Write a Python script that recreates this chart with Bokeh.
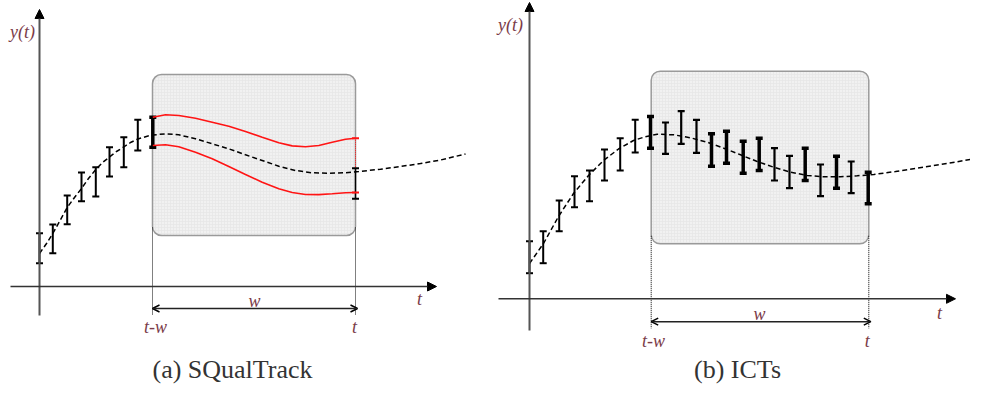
from bokeh.plotting import figure
from bokeh.models import Range1d, Arrow, NormalHead, OpenHead, ColumnDataSource
from bokeh.core.properties import value
from bokeh.embed import file_html
from bokeh.resources import INLINE

# ---------------- data (in picture pixel units) ----------------
# Panel (a) SQualTrack
A_AXIS_X = 39
A_AXIS_Y = 286
A_AXIS_TOP = 9
A_AXIS_LEFT = 10
A_AXIS_RIGHT = 436
A_AXIS_BOTTOM = 315
A_WIN = [152, 355]          # t-w, t
A_BOX_TB = [74, 235]
A_BAR_X = [39, 52.3, 66.7, 81, 95.3, 109, 123.3, 137.3, 152.3]
A_BAR_HI = [232.7, 224, 195, 172, 166.7, 146.7, 136.7, 119.3, 116.7]
A_BAR_LO = [262.7, 252.7, 223.7, 200.7, 196, 176, 166.7, 150, 146.7]
A_BAR_W = [2, 2, 2, 2, 2, 2, 2, 2, 3.5]
A_LAST_BAR = [355, 167.7, 198.3]
A_CURVE_X = [39, 46, 52.3, 59, 66.7, 74, 81, 88, 95.3, 102, 109, 116, 123.3, 130, 137.3,
             146.7, 152.3, 165, 178.3, 195, 211.7, 228.3, 245, 261.7, 278.3, 295, 311.7,
             328.3, 345, 358.3, 380, 400, 420, 440, 465]
A_CURVE_Y = [253, 243, 233, 221, 207, 197, 188, 178, 169, 162, 156.5, 151, 146.5, 142, 138.5,
             135.7, 134.5, 133.3, 134.3, 138.3, 143.3, 148.3, 154.3, 160, 165.7, 170, 172.3,
             172.7, 172.3, 171, 168.7, 166, 163, 159.5, 153.5]
A_RED_X = [152.3, 165, 178.3, 195, 211.7, 228.3, 245, 261.7, 278.3, 291.7, 305, 318.3,
           331.7, 345, 355]
A_RED_UP = [116.7, 114.3, 115, 117.7, 121.7, 125.7, 131, 136.7, 142.3, 145.4, 146.3, 145,
            141.7, 138.7, 137.7]
A_RED_LO = [145, 144.3, 146.3, 151.7, 158.3, 166, 174, 181.7, 188.3, 192, 194, 194.1,
            193.3, 192.3, 192]

# Panel (b) ICTs
B_AXIS_X = 529
B_AXIS_Y = 298.3
B_AXIS_TOP = 2
B_AXIS_LEFT = 498
B_AXIS_RIGHT = 955
B_AXIS_BOTTOM = 330
B_WIN = [650.7, 868.3]
B_BOX_TB = [70.7, 243.3]
B_BAR_X = [529, 542.7, 558.7, 574, 589, 604, 619.7, 634.7, 650, 665, 680.7, 696,
           711, 726, 742.7, 758.7, 774, 789, 804.7, 820, 836, 850.7, 867.7]
B_BAR_HI = [240.7, 230.7, 200, 175.7, 170, 149, 137.7, 119.3, 116, 122, 110.7, 119.3,
            133.3, 130.7, 140.7, 137.7, 147.7, 155.3, 147.7, 164, 155.7, 161, 171.7]
B_BAR_LO = [272.7, 262.7, 230.7, 206.7, 200.7, 180, 170, 152, 147.7, 153.3, 143.3, 152.3,
            165.7, 162.7, 172.7, 170, 180, 187.7, 180, 195.7, 187.7, 192.7, 203.3]
B_BAR_W = [2, 2, 2, 2, 2, 2, 2, 2, 3.5, 2.2, 2.2, 2.2,
           3.5, 3.5, 3.5, 3.5, 2.2, 2.2, 3.5, 2.2, 3.5, 2.2, 3.5]
B_CURVE_X = [529, 543, 558, 573, 588, 603, 618, 633, 643.3, 656.7, 673.3, 690, 706.7, 723.3,
             740, 756.7, 773.3, 790, 806.7, 823.3, 840, 856.7, 873.3, 895, 923, 955, 987]
B_CURVE_Y = [263, 243, 216, 193, 175, 160, 148.5, 140, 136.7, 133.7, 134.3, 137.3, 141.7, 147.7,
             154.3, 161, 166.7, 171.7, 175, 176.3, 176.3, 175.3, 174, 171, 166.7, 161.5, 156]

LABEL_COLOR = "#7b3b48"
LAB_TXT = ["y(t)", "w", "t-w", "t", "t",
           "y(t)", "w", "t-w", "t", "t"]
LAB_X = [22, 254, 155, 354, 419,
         510, 759, 653, 866.7, 939]
LAB_Y = [31, 300, 326, 326, 298,
         24, 313, 340, 340, 312]
CAPTIONS = ["(a) SQualTrack", "(b) ICTs"]
CAPTION_X = [232, 737]
CAPTION_Y = [369, 369]

# ---------------- figure ----------------
p = figure(width=970, height=385, x_range=Range1d(0, 970), y_range=Range1d(385, 0),
           output_backend="svg", toolbar_location=None, min_border=0)
p.axis.visible = False
p.grid.visible = False
p.outline_line_color = None
p.background_fill_color = "white"

CAP = 3.5


def panel(axis_x, axis_y, axis_top, axis_left, axis_right, axis_bottom, win, box_tb,
          bar_x, bar_hi, bar_lo, bar_w, curve_x, curve_y, lab_dy):
    # window box
    p.quad(left=[win[0]], right=[win[1]], top=[box_tb[0]], bottom=[box_tb[1]],
           fill_color="#f1f1f1", line_color="#9a9a9a", line_width=1.5,
           hatch_pattern="+", hatch_color="#e4e4e4", hatch_scale=3, hatch_weight=0.6,
           border_radius=9)
    # axes
    p.add_layout(Arrow(end=NormalHead(size=9, fill_color="black", line_color="black"),
                       x_start=axis_x, y_start=axis_bottom, x_end=axis_x, y_end=axis_top,
                       line_color="#555555", line_width=2))
    p.add_layout(Arrow(end=NormalHead(size=9, fill_color="black", line_color="black"),
                       x_start=axis_left, y_start=axis_y, x_end=axis_right, y_end=axis_y,
                       line_color="#333333", line_width=1.5))
    # dotted window limits
    p.segment(x0=win, y0=[box_tb[1] - 8] * 2, x1=win, y1=[axis_y + 28 + lab_dy] * 2,
              line_color="black", line_width=1, line_dash="1 1")
    # width arrow
    p.add_layout(Arrow(start=OpenHead(size=7, line_width=1.5), end=OpenHead(size=7, line_width=1.5),
                       x_start=win[0], y_start=axis_y + 22 + lab_dy * 0.6,
                       x_end=win[1] + 2, y_end=axis_y + 22 + lab_dy * 0.6,
                       line_color="#222222", line_width=1.5))
    # dashed curve
    p.line(curve_x, curve_y, line_color="black", line_width=1.5, line_dash="5 3")
    # error bars
    src = ColumnDataSource(dict(x=bar_x, hi=bar_hi, lo=bar_lo, w=bar_w,
                                xl=[v - CAP for v in bar_x], xr=[v + CAP for v in bar_x]))
    p.segment(x0="x", y0="hi", x1="x", y1="lo", line_width="w", line_color="black", source=src)
    p.segment(x0="xl", y0="hi", x1="xr", y1="hi", line_width="w", line_color="black", source=src)
    p.segment(x0="xl", y0="lo", x1="xr", y1="lo", line_width="w", line_color="black", source=src)


panel(A_AXIS_X, A_AXIS_Y, A_AXIS_TOP, A_AXIS_LEFT, A_AXIS_RIGHT, A_AXIS_BOTTOM, A_WIN, A_BOX_TB,
      A_BAR_X, A_BAR_HI, A_BAR_LO, A_BAR_W, A_CURVE_X, A_CURVE_Y, 0)
panel(B_AXIS_X, B_AXIS_Y, B_AXIS_TOP, B_AXIS_LEFT, B_AXIS_RIGHT, B_AXIS_BOTTOM, B_WIN, B_BOX_TB,
      B_BAR_X, B_BAR_HI, B_BAR_LO, B_BAR_W, B_CURVE_X, B_CURVE_Y, 1.5)

# red band of panel (a)
RED = "#ff1414"
p.line(A_RED_X, A_RED_UP, line_color=RED, line_width=1.6)
p.line(A_RED_X, A_RED_LO, line_color=RED, line_width=1.6)
p.segment(x0=[A_RED_X[-1]], y0=[A_RED_UP[-1]], x1=[A_RED_X[-1]], y1=[A_RED_LO[-1]],
          line_color=RED, line_width=1, line_dash="1 1")
# last black bar of panel (a)
p.segment(x0=[A_LAST_BAR[0]], y0=[A_LAST_BAR[1]], x1=[A_LAST_BAR[0]], y1=[A_LAST_BAR[2]],
          line_color="black", line_width=1.5)
p.segment(x0=[A_LAST_BAR[0] - CAP] * 2, y0=A_LAST_BAR[1:], x1=[A_LAST_BAR[0] + CAP] * 2,
          y1=A_LAST_BAR[1:], line_color="black", line_width=2)
p.segment(x0=[A_RED_X[-1] - CAP] * 2, y0=[A_RED_UP[-1], A_RED_LO[-1]],
          x1=[A_RED_X[-1] + CAP] * 2, y1=[A_RED_UP[-1], A_RED_LO[-1]],
          line_color=RED, line_width=2)

# italic labels
p.text(x=LAB_X, y=LAB_Y, text=LAB_TXT, text_align="center", text_baseline="middle",
       text_font=value("Liberation Serif"), text_font_style="italic", text_font_size="18px",
       text_color=LABEL_COLOR)

# captions
p.text(x=CAPTION_X, y=CAPTION_Y, text=CAPTIONS, text_align="center", text_baseline="middle",
       text_font=value("Liberation Serif"), text_font_size="26px", text_color="#333333")

open("out.html", "w").write(file_html(p, INLINE))
